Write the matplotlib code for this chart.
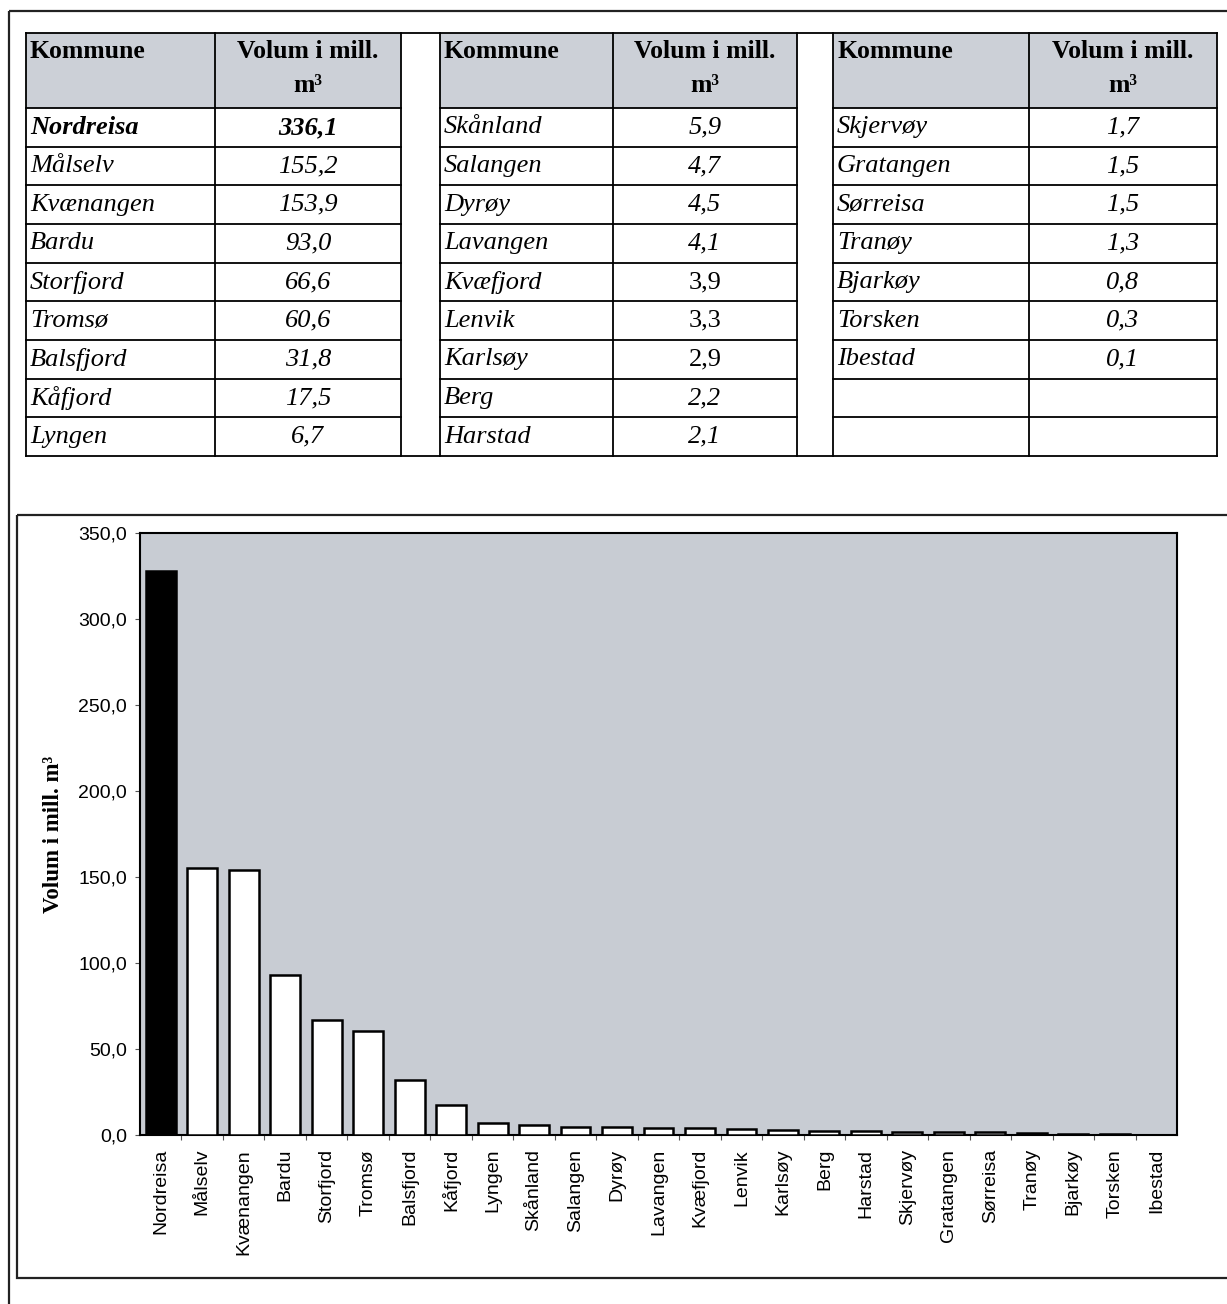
import matplotlib
matplotlib.use("Agg")
import matplotlib.pyplot as plt
from matplotlib.patches import Rectangle
import numpy as np

# data
kommuner = ["Nordreisa", "Målselv", "Kvænangen", "Bardu", "Storfjord", "Tromsø",
            "Balsfjord", "Kåfjord", "Lyngen", "Skånland", "Salangen", "Dyrøy",
            "Lavangen", "Kvæfjord", "Lenvik", "Karlsøy", "Berg", "Harstad",
            "Skjervøy", "Gratangen", "Sørreisa", "Tranøy", "Bjarkøy", "Torsken",
            "Ibestad"]
# values printed in the table
volum = [336.1, 155.2, 153.9, 93.0, 66.6, 60.6, 31.8, 17.5, 6.7,
         5.9, 4.7, 4.5, 4.1, 3.9, 3.3, 2.9, 2.2, 2.1,
         1.7, 1.5, 1.5, 1.3, 0.8, 0.3, 0.1]
# values as drawn in the bar chart (Nordreisa bar is lower than table value)
volum_figur = [328.0, 155.2, 153.9, 93.0, 66.6, 60.6, 31.8, 17.5, 6.7,
               5.9, 4.7, 4.5, 4.1, 3.9, 3.3, 2.9, 2.2, 2.1,
               1.7, 1.5, 1.5, 1.3, 0.8, 0.3, 0.1]
opprett = ["Kvæfjord", "Lenvik", "Karlsøy"]   # values not in italics
y_ticks = [0, 50, 100, 150, 200, 250, 300, 350]

W, H = 1227, 1304
serif = "Liberation Serif"
sans = "Liberation Sans"
hode_farge = "#ccd0d7"
plot_farge = "#c8ccd3"

fig = plt.figure(figsize=(W / 100, H / 100), dpi=100)

# pixel-space layer for frames and table
ax0 = fig.add_axes([0, 0, 1, 1])
ax0.set_xlim(0, W)
ax0.set_ylim(H, 0)
ax0.axis("off")

ax0.add_patch(Rectangle((9, 11), W + 20, H + 20, fill=False, lw=1.6, ec="#222222"))
ax0.add_patch(Rectangle((17, 515), W + 20, 1278 - 515, fill=False, lw=1.6, ec="#222222"))

# table
blokker = [(26, 215, 401), (440, 613, 797), (833, 1029, 1217)]
topp, hode_bunn, bunn = 33, 108, 456
n_rader = 9
rad_h = (bunn - hode_bunn) / n_rader
lw_t = 1.3
fs_hode = 18.5
fs_rad = 19

for b, (x0, x1, x2) in enumerate(blokker):
    ax0.add_patch(Rectangle((x0, topp), x2 - x0, hode_bunn - topp, fc=hode_farge, ec="none"))
    for x in (x0, x1, x2):
        ax0.plot([x, x], [topp, bunn], color="black", lw=lw_t)
    for r in range(n_rader):
        y = hode_bunn + r * rad_h
        ax0.plot([x0, x2], [y, y], color="black", lw=lw_t)
    ax0.text(x0 + 4, 52, "Kommune", family=serif, weight="bold", fontsize=fs_hode,
             ha="left", va="center")
    ax0.text((x1 + x2) / 2, 52, "Volum i mill.", family=serif, weight="bold",
             fontsize=fs_hode, ha="center", va="center")
    ax0.text((x1 + x2) / 2, 86, "m³", family=serif, weight="bold",
             fontsize=fs_hode, ha="center", va="center")
    for r in range(n_rader):
        i = b * n_rader + r
        if i >= len(kommuner):
            continue
        yc = hode_bunn + (r + 0.5) * rad_h
        vekt = "bold" if i == 0 else "normal"
        ax0.text(x0 + 4, yc, kommuner[i], family=serif, style="italic",
                 weight=vekt, fontsize=fs_rad, ha="left", va="center")
        stil = "normal" if kommuner[i] in opprett else "italic"
        ax0.text((x1 + x2) / 2, yc, f"{volum[i]:.1f}".replace(".", ","),
                 family=serif, style=stil, weight=vekt, fontsize=fs_rad,
                 ha="center", va="center")

ax0.plot([26, 1217], [topp, topp], color="black", lw=lw_t)
ax0.plot([26, 1217], [bunn, bunn], color="black", lw=lw_t)

# bar chart
ax = fig.add_axes([140 / W, (H - 1135) / H, 1037 / W, 602 / H])
ax.set_facecolor(plot_farge)
x = np.arange(len(kommuner))
farger = ["black"] + ["white"] * (len(kommuner) - 1)
ax.bar(x, volum_figur, width=0.72, color=farger, edgecolor="black", linewidth=1.8, zorder=3)
ax.set_xlim(-0.5, len(kommuner) - 0.5)
ax.set_ylim(0, 350)
ax.set_yticks(y_ticks)
ax.set_yticklabels([f"{v:.1f}".replace(".", ",") for v in y_ticks], family=sans, fontsize=14)
ax.set_xticks(x)
ax.set_xticklabels(kommuner, rotation=90, family=sans, fontsize=14)
ax.set_xticks(x[:-1] + 0.5, minor=True)
ax.tick_params(axis="x", which="major", length=0, pad=10)
ax.tick_params(axis="x", which="minor", length=3.5, width=0.8, color="#555555")
ax.tick_params(axis="y", length=3.5, width=0.8, color="#555555", pad=6)
for s in ax.spines.values():
    s.set_linewidth(1.5)
    s.set_color("black")

fig.text(54 / W, (H - 834) / H, "Volum i mill. m³", family=serif, weight="bold",
         fontsize=16.5, rotation=90, ha="center", va="center")

fig.savefig("out.png", dpi=100)
